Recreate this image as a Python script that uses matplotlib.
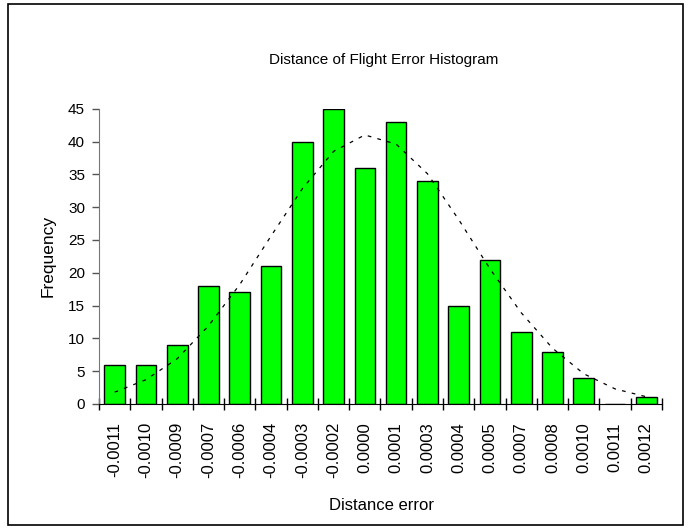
import matplotlib.pyplot as plt
from matplotlib.patches import Rectangle
import numpy as np

# histogram bins (labels) and counts
bins = ['-0.0011', '-0.0010', '-0.0009', '-0.0007', '-0.0006', '-0.0004',
        '-0.0003', '-0.0002', '0.0000', '0.0001', '0.0003', '0.0004',
        '0.0005', '0.0007', '0.0008', '0.0010', '0.0011', '0.0012']
counts = [6, 6, 9, 18, 17, 21, 40, 45, 36, 43, 34, 15, 22, 11, 8, 4, 0, 1]
# fitted normal curve, read at each bin
normal_fit = [1.8, 3.7, 6.9, 11.9, 18.2, 25.6, 32.8, 38.5, 41.0, 39.6,
              35.1, 28.1, 20.6, 13.9, 8.5, 4.6, 2.3, 1.1]

plt.rcParams['font.family'] = ['Liberation Sans', 'DejaVu Sans']

fig = plt.figure(figsize=(6.88, 5.29), dpi=100)
ax = fig.add_axes([0.1439, 0.2363, 0.8183, 0.5582])

x = np.arange(len(bins))
ax.bar(x, counts, width=0.66, color='#00ff00', edgecolor='black', linewidth=1, zorder=2)
ax.plot(x, normal_fit, color='black', linestyle=(0, (3, 5)), linewidth=0.9, zorder=3)

ax.set_xlim(-0.5, len(bins) - 0.5)
ax.set_ylim(0, 45)
ax.set_yticks(range(0, 46, 5))
ax.set_xticks(x)
ax.set_xticklabels(bins, rotation=90, fontsize=12)
ax.set_xticks(np.arange(-0.5, len(bins)), minor=True)
ax.tick_params(axis='x', which='major', length=0, pad=13)
ax.tick_params(axis='x', which='minor', direction='inout', length=8, width=1, color='black')
ax.tick_params(axis='y', direction='out', length=5, width=1, color='#555555', labelsize=11, pad=5)

for s in ['top', 'right']:
    ax.spines[s].set_visible(False)
ax.spines['left'].set_color('#777777')
ax.spines['bottom'].set_color('black')

ax.set_ylabel('Frequency', fontsize=12.5, labelpad=9)
fig.text(0.555, 1 - 506 / 529, 'Distance error', fontsize=12, ha='center', va='center')
fig.text(0.557, 1 - 60 / 529, 'Distance of Flight Error Histogram', fontsize=11,
         ha='center', va='center')

# outer chart border
fig.patches.append(Rectangle((8 / 688, 4 / 529), 675 / 688, 521 / 529,
                             transform=fig.transFigure, fill=False,
                             edgecolor='black', linewidth=1.2))

fig.savefig('out.png', dpi=100)
